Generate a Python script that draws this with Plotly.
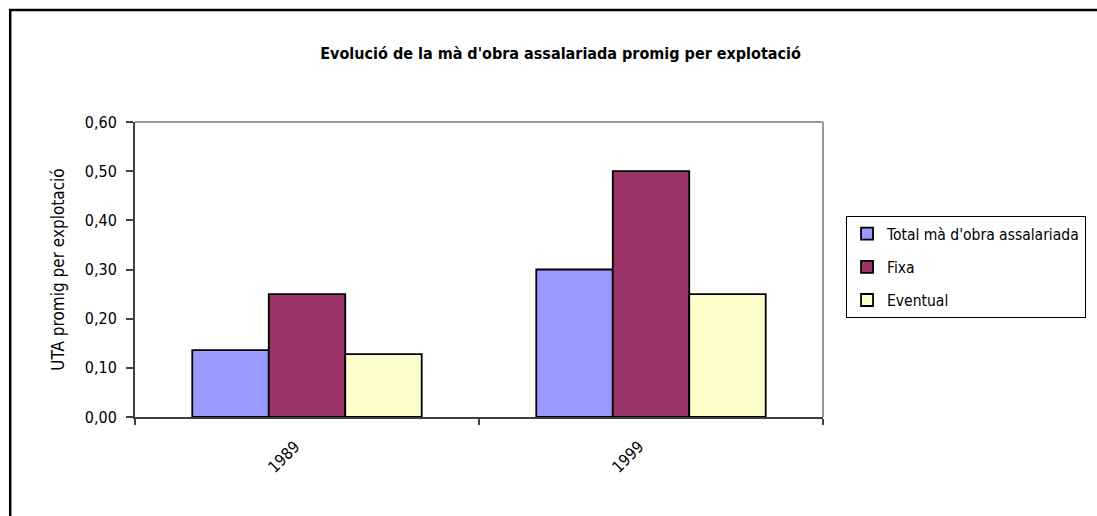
import plotly.graph_objects as go

years = ["1989", "1999"]
series_names = ["Total mà d'obra assalariada", "Fixa", "Eventual"]
total = [0.136, 0.30]
fixa = [0.25, 0.50]
eventual = [0.128, 0.25]
colors = ["#9999FF", "#993366", "#FFFFCC"]

FONT = "DejaVu Sans Condensed, DejaVu Sans, sans-serif"

fig = go.Figure()
for i, (name, vals, col) in enumerate(zip(series_names, [total, fixa, eventual], colors)):
    fig.add_trace(go.Bar(x=years, y=vals, name=name, legendgroup=f"g{i}",
                         marker=dict(color=col, line=dict(color="black", width=1.8))))

fig.update_layout(
    width=1097, height=516,
    paper_bgcolor="white", plot_bgcolor="white",
    margin=dict(l=135, r=273, t=122, b=99),
    barmode="group", bargap=0.333, bargroupgap=0,
    separators=", ",
    font=dict(family=FONT, size=16, color="black"),
    title=dict(text="<b>Evolució de la mà d'obra assalariada promig per explotació</b>",
               x=0.511, xanchor="center", y=0.897, yanchor="middle",
               font=dict(family=FONT, size=16, color="black")),
    legend=dict(x=1.032, y=0.681, xanchor="left", yanchor="top",
                bordercolor="black", borderwidth=1, bgcolor="white",
                font=dict(family=FONT, size=15.5), tracegroupgap=10,
                itemwidth=30),
    showlegend=True,
)
fig.update_yaxes(range=[0, 0.6], dtick=0.1, tickformat=".2f",
                 showgrid=False, zeroline=False,
                 showline=True, linecolor="#404040", linewidth=2,
                 ticks="outside", ticklen=7, tickcolor="#404040", tickwidth=1.5,
                 ticklabelstandoff=6,
                 title=dict(text="UTA promig per explotació", standoff=16,
                            font=dict(family=FONT, size=17)))
fig.update_xaxes(showgrid=False, showline=True, linecolor="#404040", linewidth=2,
                 ticks="outside", ticklen=6, tickson="boundaries",
                 tickcolor="#404040", tickwidth=1.5, tickangle=-45,
                 ticklabelstandoff=12, ticklabelshift=-12)
fig.add_shape(type="line", xref="paper", yref="paper", x0=0, x1=1, y0=1, y1=1,
              line=dict(color="#999999", width=2))
fig.add_shape(type="line", xref="paper", yref="paper", x0=1, x1=1, y0=0, y1=1,
              line=dict(color="#999999", width=2))
fig.add_shape(type="rect", xref="paper", yref="paper",
              x0=-0.1814, y0=-1.0, x1=2.0, y1=1.3797,
              line=dict(color="black", width=2.5), layer="below")
fig.write_html("out.html", config={"displayModeBar": False},
               post_script="document.body.style.margin='0';document.body.style.overflow='hidden';")
